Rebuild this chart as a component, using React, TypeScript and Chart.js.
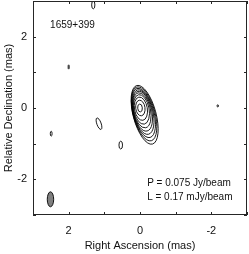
import React, { useEffect, useRef } from "react";
import { Chart, registerables } from "chart.js";

Chart.register(...registerables);

// Axis ranges (mas) and tick values
const raRange = [-3, 3];
const decRange = [-3, 3];
const tickValues = [-3, -2, -1, 0, 1, 2, 3];
const labelledTicks = [-2, 0, 2];

// Main source contours (outer -> inner): centre RA, centre Dec, semi-major (N-S), semi-minor, tilt (deg)
const contourRA = [-0.13, -0.115, -0.1, -0.085, -0.07, -0.055, -0.04, -0.025, -0.01, 0.0];
const contourDec = [-0.19, -0.165, -0.14, -0.115, -0.09, -0.065, -0.04, -0.02, 0.0, 0.0];
const contourMajor = [0.85, 0.78, 0.71, 0.64, 0.57, 0.5, 0.42, 0.33, 0.22, 0.11];
const contourMinor = [0.32, 0.305, 0.29, 0.275, 0.26, 0.24, 0.215, 0.18, 0.13, 0.065];
const contourTilt = [15, 15, 15, 14, 13, 12, 11, 10, 8, 5];

// Isolated faint contours
const blobRA = [1.31, 2.0, 1.15, 0.54, 2.49, -2.18];
const blobDec = [2.89, 1.15, -0.44, -1.04, -0.72, 0.06];
const blobMajor = [0.11, 0.06, 0.17, 0.11, 0.07, 0.03];
const blobMinor = [0.045, 0.015, 0.06, 0.05, 0.025, 0.02];
const blobTilt = [0, 0, 20, 0, 0, 0];

// Restoring beam
const beamRA = 2.51;
const beamDec = -2.56;
const beamMajor = 0.21;
const beamMinor = 0.09;

const sourceName = "1659+399";
const peakText = "P = 0.075 Jy/beam";
const lowText = "L = 0.17 mJy/beam";

const FONT = "'Liberation Sans', Arial, Helvetica, sans-serif";

function drawEllipse(chart: any, ra: number, dec: number, maj: number, min: number, tilt: number) {
  const xs = chart.scales.x;
  const ys = chart.scales.y;
  const px = xs.getPixelForValue(ra);
  const py = ys.getPixelForValue(dec);
  const rx = Math.abs(xs.getPixelForValue(ra + min) - px);
  const ry = Math.abs(ys.getPixelForValue(dec + maj) - py);
  const ctx = chart.ctx;
  ctx.beginPath();
  ctx.ellipse(px, py, rx, ry, (-tilt * Math.PI) / 180, 0, Math.PI * 2);
}

const mapPlugin = {
  id: "mapPlugin",
  afterDatasetsDraw(chart: any) {
    const ctx = chart.ctx;
    const { left, right, top, bottom } = chart.chartArea;
    const xs = chart.scales.x;
    const ys = chart.scales.y;
    ctx.save();
    ctx.beginPath();
    ctx.rect(left, top, right - left, bottom - top);
    ctx.clip();
    ctx.strokeStyle = "#000";
    ctx.lineWidth = 0.9;
    for (let i = 0; i < contourRA.length; i++) {
      drawEllipse(chart, contourRA[i], contourDec[i], contourMajor[i], contourMinor[i], contourTilt[i]);
      ctx.stroke();
    }
    for (let i = 0; i < blobRA.length; i++) {
      drawEllipse(chart, blobRA[i], blobDec[i], blobMajor[i], blobMinor[i], blobTilt[i]);
      ctx.stroke();
    }
    drawEllipse(chart, beamRA, beamDec, beamMajor, beamMinor, 0);
    ctx.fillStyle = "#7f7f7f";
    ctx.fill();
    ctx.stroke();
    ctx.restore();

    // frame
    ctx.save();
    ctx.strokeStyle = "#262626";
    ctx.lineWidth = 1;
    ctx.strokeRect(left + 0.5, top + 0.5, right - left - 1, bottom - top - 1);
    // inward ticks
    const tl = 3;
    ctx.beginPath();
    for (const v of tickValues) {
      const px = Math.round(xs.getPixelForValue(v)) + 0.5;
      ctx.moveTo(px, bottom);
      ctx.lineTo(px, bottom - tl);
      ctx.moveTo(px, top);
      ctx.lineTo(px, top + tl);
      const py = Math.round(ys.getPixelForValue(v)) + 0.5;
      ctx.moveTo(left, py);
      ctx.lineTo(left + tl, py);
      ctx.moveTo(right, py);
      ctx.lineTo(right - tl, py);
    }
    ctx.stroke();

    // annotations
    ctx.fillStyle = "#111";
    ctx.font = "10px " + FONT;
    ctx.textAlign = "left";
    ctx.textBaseline = "middle";
    ctx.fillText(sourceName, xs.getPixelForValue(2.52), ys.getPixelForValue(2.33));
    ctx.fillText(peakText, xs.getPixelForValue(-0.2), ys.getPixelForValue(-2.11));
    ctx.fillText(lowText, xs.getPixelForValue(-0.2), ys.getPixelForValue(-2.51));
    ctx.restore();
  },
};

const zeroPad = (s: any) => {
  s.paddingTop = 0;
  s.paddingBottom = 0;
  s.paddingLeft = 0;
  s.paddingRight = 0;
};

export default function App() {
  const ref = useRef<HTMLCanvasElement>(null);
  useEffect(() => {
    document.body.style.margin = "0";
    const canvas = ref.current;
    if (!canvas) return;
    const tickCb = (v: any) => (labelledTicks.includes(Number(v)) ? String(v) : "");
    const chart = new Chart(canvas, {
      type: "scatter",
      data: {
        datasets: [
          {
            label: "contour centres",
            data: contourRA.map((ra, i) => ({ x: ra, y: contourDec[i] })),
            pointRadius: 0,
            showLine: false,
          },
        ],
      },
      options: {
        animation: false,
        responsive: false,
        devicePixelRatio: 1,
        layout: { padding: { top: 1, right: 2, left: 0, bottom: 0 } },
        plugins: { legend: { display: false }, tooltip: { enabled: false } },
        scales: {
          x: {
            type: "linear",
            position: "bottom",
            min: raRange[0],
            max: raRange[1],
            reverse: true,
            grid: { display: false, drawTicks: false },
            border: { display: false },
            ticks: {
              stepSize: 1,
              autoSkip: false,
              maxRotation: 0,
              padding: 9,
              color: "#111",
              font: { family: FONT, size: 11 },
              callback: tickCb,
            },
            title: {
              display: true,
              text: "Right Ascension (mas)",
              color: "#111",
              font: { family: FONT, size: 11 },
              padding: { top: 0, bottom: 1 },
            },
            afterFit: (s: any) => {
              s.height = 39;
              zeroPad(s);
            },
          },
          y: {
            type: "linear",
            min: decRange[0],
            max: decRange[1],
            grid: { display: false, drawTicks: false },
            border: { display: false },
            ticks: {
              stepSize: 1,
              autoSkip: false,
              padding: 6,
              color: "#111",
              font: { family: FONT, size: 11 },
              callback: tickCb,
            },
            title: {
              display: true,
              text: "Relative Declination (mas)",
              color: "#111",
              font: { family: FONT, size: 11 },
              padding: { top: 2, bottom: 0 },
            },
            afterFit: (s: any) => {
              s.width = 33;
              zeroPad(s);
            },
          },
        },
      },
      plugins: [mapPlugin],
    } as any);
    return () => chart.destroy();
  }, []);
  return <canvas ref={ref} width={249} height={254} style={{ display: "block" }} />;
}
